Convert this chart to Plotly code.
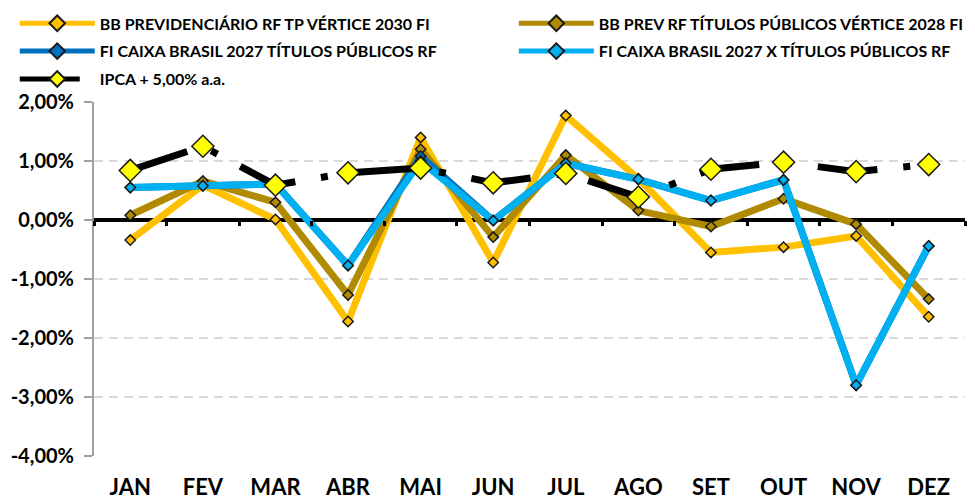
import plotly.graph_objects as go

months = ["JAN", "FEV", "MAR", "ABR", "MAI", "JUN", "JUL", "AGO", "SET", "OUT", "NOV", "DEZ"]

bb_2030 = [-0.34, 0.59, 0.01, -1.72, 1.40, -0.72, 1.77, 0.70, -0.55, -0.46, -0.27, -1.64]
bb_2028 = [0.08, 0.66, 0.30, -1.27, 1.20, -0.29, 1.10, 0.16, -0.11, 0.36, -0.07, -1.34]
caixa_2027 = [0.55, 0.58, 0.61, -0.77, 1.08, -0.01, 0.96, 0.69, 0.33, 0.68, -2.80, -0.44]
caixa_2027x = [0.55, 0.58, 0.61, -0.77, 1.00, -0.01, 0.96, 0.69, 0.33, 0.68, -2.80, -0.44]
ipca = [0.84, 1.25, 0.59, 0.80, 0.88, 0.63, 0.79, 0.39, 0.86, 0.98, 0.82, 0.94]

names = [
    "BB PREVIDENCIÁRIO RF TP VÉRTICE 2030 FI",
    "BB PREV RF TÍTULOS PÚBLICOS VÉRTICE 2028 FI",
    "FI CAIXA BRASIL 2027 TÍTULOS PÚBLICOS RF",
    "FI CAIXA BRASIL 2027 X TÍTULOS PÚBLICOS RF",
    "IPCA + 5,00% a.a.",
]

y_tickvals = [-4, -3, -2, -1, 0, 1, 2]
y_ticktext = ["-4,00%", "-3,00%", "-2,00%", "-1,00%", "0,00%", "1,00%", "2,00%"]

FONT = "Lato"

fig = go.Figure()

series = [
    (bb_2030, names[0], "#FFC000", "legend", "g1"),
    (bb_2028, names[1], "#B08A00", "legend2", "g2"),
    (caixa_2027, names[2], "#0070C0", "legend", "g3"),
    (caixa_2027x, names[3], "#00B0F0", "legend2", "g4"),
]
for vals, nm, col, lg, grp in series:
    fig.add_trace(go.Scatter(
        x=months, y=vals, name=nm, mode="lines+markers",
        line=dict(color=col, width=7),
        marker=dict(symbol="diamond", size=8, color=col, line=dict(color="#1a1a1a", width=1.5)),
        legend=lg, legendgroup=grp,
    ))

fig.add_trace(go.Scatter(
    x=months, y=ipca, name=names[4], mode="lines+markers", xaxis="x2",
    line=dict(color="black", width=7, dash="60px,26px,7px,26px"),
    marker=dict(symbol="diamond", size=17, color="#FFFF00", line=dict(color="#1a1a1a", width=1.5)),
    legend="legend", legendgroup="g5",
))

legend_common = dict(
    orientation="v", bgcolor="rgba(0,0,0,0)",
    font=dict(family=FONT, size=16, color="black", weight="bold"),
    yanchor="top", xanchor="left", tracegroupgap=4, itemsizing="constant",
    itemwidth=75,
)

fig.update_layout(
    width=967, height=492,
    margin=dict(l=86, r=10, t=94, b=44, autoexpand=False),
    paper_bgcolor="white", plot_bgcolor="white",
    font=dict(family=FONT, color="black"),
    showlegend=True,
    legend=dict(x=-0.091, y=1.27, **legend_common),
    legend2=dict(x=0.482, y=1.27, **legend_common),
    xaxis=dict(
        type="category", categoryorder="array", categoryarray=months,
        range=[-0.5, 11.5], showgrid=False, zeroline=False, showline=False,
        ticks="", tickfont=dict(family=FONT, size=22, color="black", weight="bold"),
        ticklabelstandoff=16,
    ),
    xaxis2=dict(
        type="category", categoryorder="array", categoryarray=months,
        overlaying="x", anchor="free", position=4 / 6, range=[-0.5, 11.5],
        tickson="boundaries", ticks="outside", ticklen=5, tickwidth=3, tickcolor="black",
        showticklabels=False, showgrid=False, zeroline=False, showline=False,
    ),
    yaxis=dict(
        range=[-4, 2], tickvals=y_tickvals, ticktext=y_ticktext,
        showgrid=True, gridcolor="#D9D9D9", gridwidth=2, griddash="9px,6px",
        zeroline=True, zerolinecolor="black", zerolinewidth=4,
        showline=True, linecolor="#A0A0A0", linewidth=2,
        ticks="outside", ticklen=8, tickwidth=2, tickcolor="#A0A0A0",
        tickfont=dict(family=FONT, size=20, color="black", weight="bold"),
        ticklabelstandoff=6,
    ),
)

fig.write_html("out.html")
